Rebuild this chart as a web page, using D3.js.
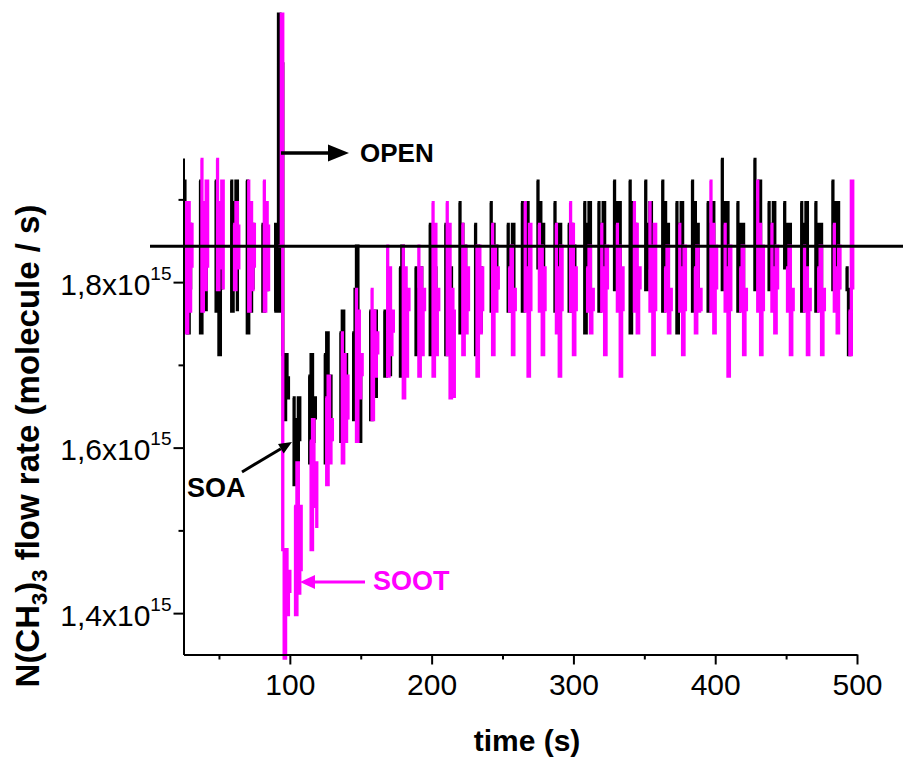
<!DOCTYPE html>
<html><head><meta charset="utf-8">
<script src="https://cdn.jsdelivr.net/npm/d3@7"></script>
<style>body{margin:0;background:#fff}svg{display:block}</style>
</head><body><svg id="c" width="903" height="760"></svg>
<script>
// ---- data (flow rate in units of 1e15 molecule/s, read as quantised levels) ----
const xTicks = [100, 200, 300, 400, 500];
const xMinorTicks = [50, 150, 250, 350, 450];
const yTicks = [1.4, 1.6, 1.8];
const yMinorTicks = [1.5, 1.7, 1.9];
const yTickLabels = ["1,4x10", "1,6x10", "1,8x10"];
const yTickExp = "15";
const refValue = 1.8435;          // horizontal reference line
const levelBase = 1.8435;         // level 0
const levelStep = 0.0262;         // one quantisation step
// Each burst: [start time (s), readings one per second, as levels]
const soaBursts = [   // SOA (black)
  [25, [3,-3,2,-4,1,-2]],
  [36, [3,-4,2,-2,1,-3]],
  [47, [3,-3,2,-5,1,-2]],
  [58, [3,-3,2,-1,3,-3]],
  [69, [3,-4,2,-3,1,-2]],
  [80, [1,-3,1,-2,0]],
  [89, [-3,1,-3,10.7,-3,8.4,-5,-8,-5,-7,-6]],
  [102, [-7,-11,-8,-10,-7,-9]],
  [113, [-6,-10,-5,-9,-7,-8]],
  [124, [-5,-10,-4,-8,-6,-9]],
  [135, [-4,-9,-3,-7,-5,-8]],
  [144, [-4,-8,-2,0,-6,-9,-5]],
  [156, [-3,-8,-4,-6,-3,-7]],
  [166, [-3,-6,-4,-5,-3,-6]],
  [177, [-1,-6,0,-5,-2,-6]],
  [188, [-1,-5,-2,-4,-1,-5]],
  [198, [1,-5,0,-3,-1,-4]],
  [209, [1,-5,0,-4,-1,-3]],
  [219, [2,-4,1,-3,0,-2]],
  [230, [1,-5,0,-3,-1,-4]],
  [241, [2,-3,1,-2,0,-2]],
  [253, [1,-3,0,-2,1,-2]],
  [263, [2,-3,1,-2,2,-1]],
  [274, [3,-1,2,-2,1,-1]],
  [286, [2,-3,1,-2,1,-3]],
  [296, [1,-3,1,-2,0,-2]],
  [307, [2,-4,1,-2,2,-3]],
  [317, [2,-3,1,-2,2,-2]],
  [328, [3,-2,2,-1,2,-2]],
  [339, [3,-4,2,-2,1,-3]],
  [350, [3,-2,1,-1,2,-2]],
  [362, [3,-3,2,-1,1,-2]],
  [372, [2,-4,1,-2,2,-3]],
  [383, [3,-3,2,-2,1,-2]],
  [394, [2,-3,1,-2,2,-1]],
  [404, [4,-2,2,-1,2,-1]],
  [415, [2,-3,1,-2,1,-2]],
  [427, [4,-2,2,-1,3,-1]],
  [437, [2,-2,1,-1,2,-2]],
  [448, [2,-1,1,-1,1,0]],
  [460, [2,-3,1,-2,2,-2]],
  [470, [2,-3,1,-2,1,-3]],
  [482, [3,-2,2,-1,2,-2]],
  [492, [-1,-2,-5,-3,-5]]
];
const sootBursts = [  // SOOT (magenta)
  [26, [2,-4,2,-3,1,-1]],
  [37, [4,-3,2,-2,3,-1]],
  [48, [4,-2,2,-1,3,-2]],
  [60, [1,-2,2,-1,1]],
  [70, [3,-3,2,-2,1,-1]],
  [81, [3,-3,2,-2,1]],
  [92, [0,0,10.7,-14,-19,-14,-17,-15,-16]],
  [103, [-12,-17,-10,-16,-12,-15]],
  [114, [-9,-14,-8,-12,-10,-13]],
  [125, [-7,-11,-6,-10,-8,-9]],
  [136, [-4,-10,-5,-9,-6,-8]],
  [146, [-2,-9,-3,-7,-5,-6]],
  [157, [-2,-8,-3,-6,-4,-5]],
  [168, [0,-6,-1,-5,-3,-4]],
  [179, [0,-7,-1,-6,-2,-3]],
  [190, [0,-6,-1,-5,-2,-3]],
  [200, [2,-6,1,-5,-2,-3]],
  [210, [2,-5,1,-7,-2,-3,-7]],
  [221, [1,-5,0,-4,-1,-3]],
  [231, [0,-6,0,-4,-1,-3]],
  [242, [1,-5,0,-3,-1,-2]],
  [254, [-1,-3,0,-5,-2,-3]],
  [265, [2,-3,-1,-6,1,-3]],
  [275, [1,-3,0,-5,-1,-3]],
  [287, [1,-4,-1,-6,0,-3]],
  [297, [2,-3,1,-5,-1,-3]],
  [309, [-1,-3,0,-4,-2,-3]],
  [319, [1,-3,-1,-5,0,-2]],
  [330, [1,-3,0,-6,-1,-3]],
  [342, [2,-3,1,-4,-1,-2]],
  [353, [2,-3,0,-5,1,-3]],
  [364, [-1,-3,0,-4,-2,-3]],
  [374, [1,-3,-1,-5,0,-3]],
  [385, [-1,-4,0,-3,-2,-3]],
  [396, [3,-3,1,-4,0,-2]],
  [406, [1,-3,-1,-6,0,-3]],
  [417, [-1,-3,0,-5,-2,-3]],
  [429, [3,-3,1,-5,0,-3]],
  [439, [1,-3,-1,-4,0,-2]],
  [450, [-1,-3,0,-5,-2,-3]],
  [462, [0,-3,-1,-5,-2,-3]],
  [472, [-1,-3,0,-5,-2,-3]],
  [483, [1,-3,-1,-4,0,-2]],
  [494, [-3,-5,3,-2]]
];

// ---- layout ----
const svg = d3.select("#c");
const x = d3.scaleLinear().domain([25, 500]).range([183.5, 857]);
const y = d3.scaleLinear().domain([1.35, 1.95]).range([654.5, 158]);
const font = "'Liberation Sans', Arial, sans-serif";

const toPoints = b => b[1].map((L, i) => ({t: b[0] + i, v: levelBase + L * levelStep}));
const line = d3.line().curve(d3.curveStepAfter).x(d => x(d.t)).y(d => y(d.v));

svg.append("g").selectAll("path").data(soaBursts.map(toPoints)).join("path")
  .attr("d", line).attr("fill", "none").attr("stroke", "#000").attr("stroke-width", 3.3);
svg.append("g").selectAll("path").data(sootBursts.map(toPoints)).join("path")
  .attr("d", line).attr("fill", "none").attr("stroke", "#ff00ff").attr("stroke-width", 3.3);

// reference line
svg.append("line").attr("x1", 150).attr("x2", 903).attr("y1", y(refValue)).attr("y2", y(refValue))
  .attr("stroke", "#000").attr("stroke-width", 3);

// ---- axes ----
const gx = svg.append("g").attr("transform", `translate(0,${y(1.35)})`)
  .call(d3.axisBottom(x).tickValues(xTicks).tickSize(10).tickSizeOuter(0).tickPadding(9));
svg.append("g").attr("transform", `translate(0,${y(1.35)})`)
  .call(d3.axisBottom(x).tickValues(xMinorTicks).tickSize(5).tickSizeOuter(0).tickFormat(""))
  .select(".domain").remove();
gx.selectAll("text").attr("font-family", font).attr("font-size", 30).attr("fill", "#000");

const gy = svg.append("g").attr("transform", `translate(${x(25)},0)`)
  .call(d3.axisLeft(y).tickValues(yTicks).tickSize(10).tickSizeOuter(0).tickFormat(""));
svg.append("g").attr("transform", `translate(${x(25)},0)`)
  .call(d3.axisLeft(y).tickValues(yMinorTicks).tickSize(5).tickSizeOuter(0).tickFormat(""))
  .select(".domain").remove();
gy.selectAll(".tick text").each(function(d, i) {
  const t = d3.select(this).attr("x", -12).attr("dy", "0.4em")
    .attr("font-family", font).attr("font-size", 30).attr("fill", "#000");
  t.append("tspan").text(yTickLabels[i]);
  t.append("tspan").attr("font-size", 19).attr("dy", -15).text(yTickExp);
});
svg.selectAll(".domain, .tick line").attr("stroke", "#000").attr("stroke-width", 2);

// axis titles
svg.append("text").attr("x", 527).attr("y", 751).attr("text-anchor", "middle")
  .attr("font-family", font).attr("font-weight", "bold").attr("font-size", 30).text("time (s)");
const yt = svg.append("text").attr("transform", "translate(39,446) rotate(-90)").attr("text-anchor", "middle")
  .attr("font-family", font).attr("font-weight", "bold").attr("font-size", 33);
yt.append("tspan").text("N(CH");
yt.append("tspan").attr("font-size", 22).attr("dy", 8).text("3");
yt.append("tspan").attr("dy", -8).text(")");
yt.append("tspan").attr("font-size", 22).attr("dy", 8).text("3");
yt.append("tspan").attr("dy", -8).text(" flow rate (molecule / s)");

// ---- annotations ----
function arrow(x1, y1, x2, y2, color, w, headLen, headHalf) {
  const a = Math.atan2(y2 - y1, x2 - x1);
  const bx = x2 - headLen * Math.cos(a), by = y2 - headLen * Math.sin(a);
  svg.append("line").attr("x1", x1).attr("y1", y1).attr("x2", bx).attr("y2", by)
    .attr("stroke", color).attr("stroke-width", w);
  const px = -Math.sin(a) * headHalf, py = Math.cos(a) * headHalf;
  svg.append("path").attr("d", `M${x2},${y2}L${bx + px},${by + py}L${bx - px},${by - py}Z`).attr("fill", color);
}
arrow(281, 153, 349, 153, "#000", 3.5, 21, 8.5);
svg.append("text").attr("x", 360).attr("y", 162).attr("font-family", font).attr("font-weight", "bold")
  .attr("font-size", 26).text("OPEN");
arrow(242, 472, 292, 442, "#000", 3, 13, 5.5);
svg.append("text").attr("x", 187).attr("y", 497).attr("font-family", font).attr("font-weight", "bold")
  .attr("font-size", 27).text("SOA");
arrow(365, 582, 300, 582, "#ff00ff", 3, 15, 7);
svg.append("text").attr("x", 373).attr("y", 590).attr("font-family", font).attr("font-weight", "bold")
  .attr("font-size", 27).attr("fill", "#ff00ff").text("SOOT");
</script></body></html>
